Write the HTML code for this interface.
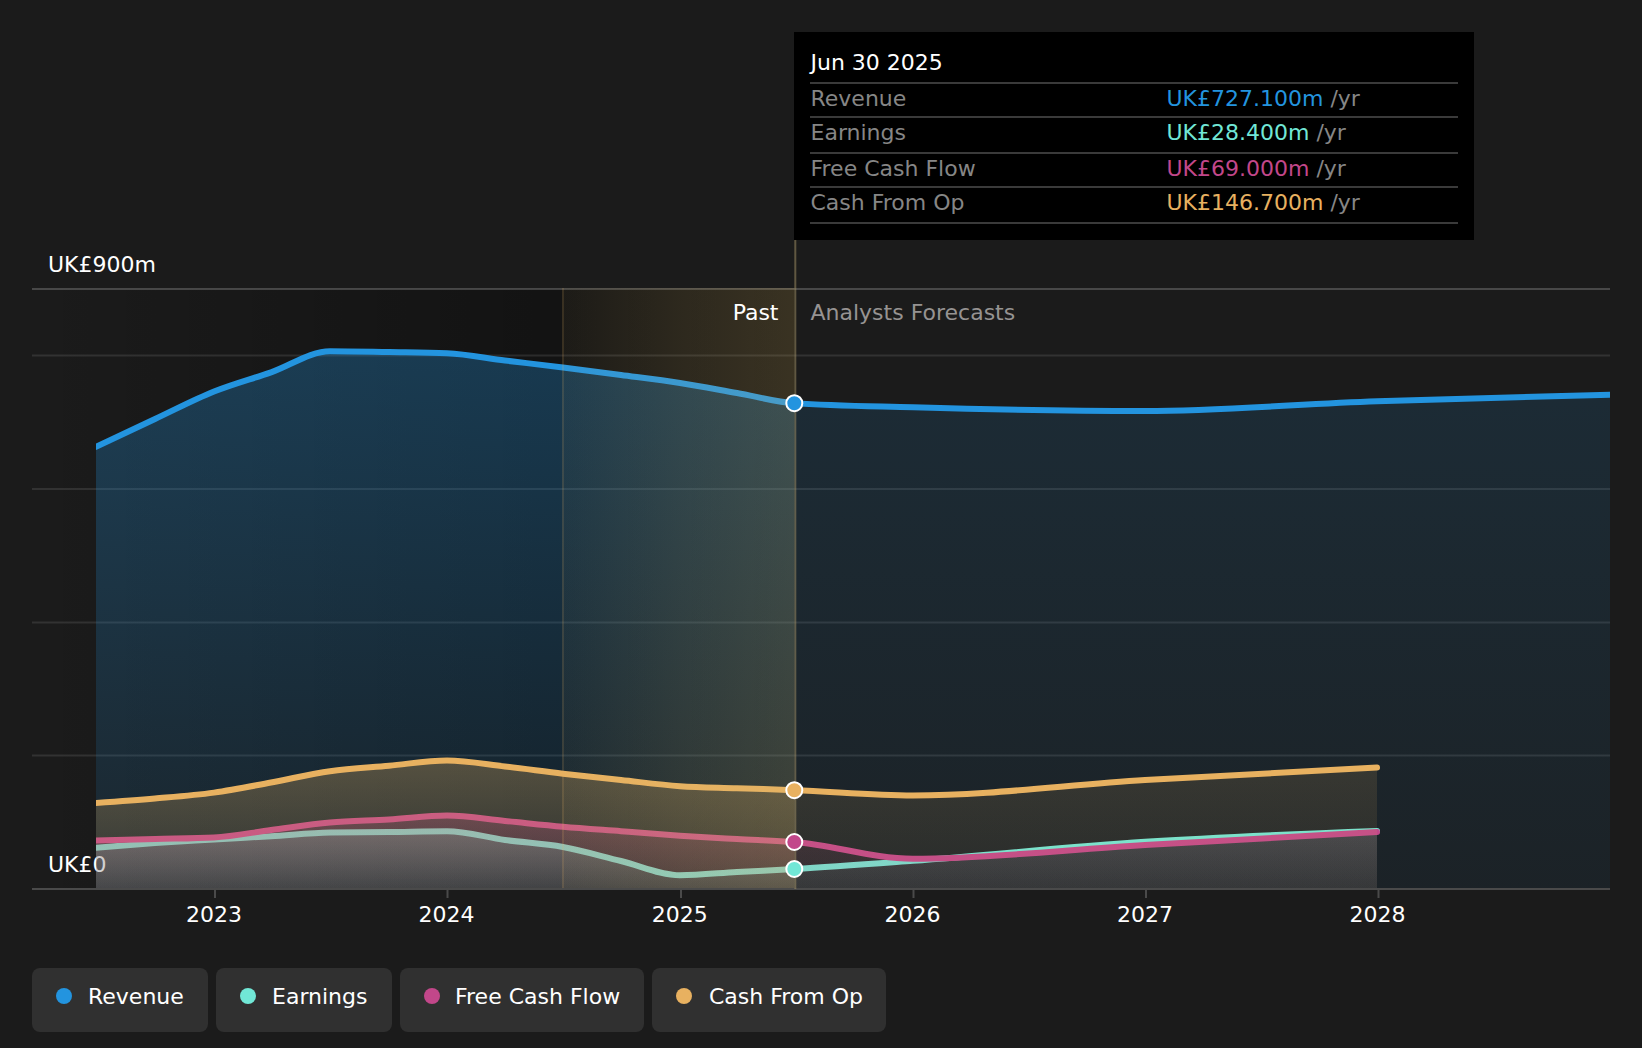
<!DOCTYPE html>
<html lang="en"><head><meta charset="utf-8"><title>Earnings and Revenue Growth</title>
<style>
html,body{margin:0;padding:0;background:#1b1b1b;}
body{width:1642px;height:1048px;overflow:hidden;position:relative;font-family:"DejaVu Sans", "Liberation Sans", sans-serif;}
svg{position:absolute;left:0;top:0;display:block}
text{font-family:"DejaVu Sans", "Liberation Sans", sans-serif;font-size:22px;}
</style></head><body>
<svg width="1642" height="1048" viewBox="0 0 1642 1048">
<defs>
<linearGradient id="gPast" x1="0" y1="0" x2="1" y2="0"><stop offset="0" stop-color="#000" stop-opacity="0"/><stop offset="1" stop-color="#000" stop-opacity="0.45"/></linearGradient>
<linearGradient id="gHi" x1="0" y1="0" x2="1" y2="0"><stop offset="0" stop-color="#d9b86b" stop-opacity="0.05"/><stop offset="0.5" stop-color="#d9b86b" stop-opacity="0.14"/><stop offset="1" stop-color="#d9b86b" stop-opacity="0.21"/></linearGradient>

<linearGradient id="gp_rev" gradientUnits="userSpaceOnUse" x1="0" y1="351.2" x2="0" y2="889"><stop offset="0" stop-color="#2394df" stop-opacity="0.3"/><stop offset="1" stop-color="#2394df" stop-opacity="0.1"/></linearGradient>
<linearGradient id="gf_rev" gradientUnits="userSpaceOnUse" x1="0" y1="351.2" x2="0" y2="889"><stop offset="0" stop-color="#2394df" stop-opacity="0.14"/><stop offset="1" stop-color="#2394df" stop-opacity="0.06"/></linearGradient>
<linearGradient id="gp_earn" gradientUnits="userSpaceOnUse" x1="0" y1="830.9" x2="0" y2="889"><stop offset="0" stop-color="#71e7d6" stop-opacity="0.3"/><stop offset="1" stop-color="#71e7d6" stop-opacity="0.1"/></linearGradient>
<linearGradient id="gf_earn" gradientUnits="userSpaceOnUse" x1="0" y1="830.9" x2="0" y2="889"><stop offset="0" stop-color="#71e7d6" stop-opacity="0.14"/><stop offset="1" stop-color="#71e7d6" stop-opacity="0.06"/></linearGradient>
<linearGradient id="gp_fcf" gradientUnits="userSpaceOnUse" x1="0" y1="815.5" x2="0" y2="889"><stop offset="0" stop-color="#c2478a" stop-opacity="0.3"/><stop offset="1" stop-color="#c2478a" stop-opacity="0.1"/></linearGradient>
<linearGradient id="gf_fcf" gradientUnits="userSpaceOnUse" x1="0" y1="815.5" x2="0" y2="889"><stop offset="0" stop-color="#c2478a" stop-opacity="0.14"/><stop offset="1" stop-color="#c2478a" stop-opacity="0.06"/></linearGradient>
<linearGradient id="gp_cfo" gradientUnits="userSpaceOnUse" x1="0" y1="760.5" x2="0" y2="889"><stop offset="0" stop-color="#e8b160" stop-opacity="0.3"/><stop offset="1" stop-color="#e8b160" stop-opacity="0.1"/></linearGradient>
<linearGradient id="gf_cfo" gradientUnits="userSpaceOnUse" x1="0" y1="760.5" x2="0" y2="889"><stop offset="0" stop-color="#e8b160" stop-opacity="0.14"/><stop offset="1" stop-color="#e8b160" stop-opacity="0.06"/></linearGradient>
</defs>
<rect x="0" y="0" width="1642" height="1048" fill="#1b1b1b"/>
<rect x="32" y="289" width="762.5" height="600" fill="url(#gPast)"/>
<rect x="32" y="354.5" width="1578" height="2" fill="#fff" fill-opacity="0.1"/>
<rect x="32" y="488.0" width="1578" height="2" fill="#fff" fill-opacity="0.1"/>
<rect x="32" y="621.5" width="1578" height="2" fill="#fff" fill-opacity="0.1"/>
<rect x="32" y="754.5" width="1578" height="2" fill="#fff" fill-opacity="0.1"/>
<rect x="32" y="288" width="1578" height="2" fill="#fff" fill-opacity="0.2"/>
<text x="48" y="872" fill="#fff">UK£0</text>
<clipPath id="cl"><rect x="96" y="0" width="1514" height="1048"/></clipPath><g clip-path="url(#cl)">
<path d="M96.00,446.80C115.67,437.51 135.33,428.22 155.00,419.00C174.67,409.78 194.33,399.37 214.00,391.50C233.00,383.89 252.00,378.89 271.00,372.30C290.67,365.47 310.33,351.20 330.00,351.20C349.67,351.20 369.33,351.75 389.00,352.10C408.33,352.45 427.67,352.50 447.00,353.30C466.33,354.10 485.67,358.13 505.00,360.50C524.33,362.87 543.67,365.08 563.00,367.50C582.33,369.92 601.67,372.44 621.00,375.00C640.67,377.60 660.33,379.93 680.00,383.00C699.00,385.96 718.00,389.65 737.00,393.00C756.17,396.38 775.33,401.87 794.50,403.20L794.5,889L96,889Z" fill="url(#gp_rev)"/>
<path d="M794.50,403.20C834.00,405.93 873.50,406.18 913.00,407.30C990.33,409.49 1067.67,411.00 1145.00,411.00C1222.33,411.00 1299.67,403.90 1377.00,401.20C1454.67,398.49 1532.33,396.65 1610.00,394.80L1610,889L794.5,889Z" fill="url(#gf_rev)"/>
<path d="M96.00,446.80C115.67,437.51 135.33,428.22 155.00,419.00C174.67,409.78 194.33,399.37 214.00,391.50C233.00,383.89 252.00,378.89 271.00,372.30C290.67,365.47 310.33,351.20 330.00,351.20C349.67,351.20 369.33,351.75 389.00,352.10C408.33,352.45 427.67,352.50 447.00,353.30C466.33,354.10 485.67,358.13 505.00,360.50C524.33,362.87 543.67,365.08 563.00,367.50C582.33,369.92 601.67,372.44 621.00,375.00C640.67,377.60 660.33,379.93 680.00,383.00C699.00,385.96 718.00,389.65 737.00,393.00C756.17,396.38 775.33,401.87 794.50,403.20" fill="none" stroke="#2394df" stroke-width="6" stroke-linejoin="round" stroke-linecap="square"/>
<path d="M794.50,403.20C834.00,405.93 873.50,406.18 913.00,407.30C990.33,409.49 1067.67,411.00 1145.00,411.00C1222.33,411.00 1299.67,403.90 1377.00,401.20C1454.67,398.49 1532.33,396.65 1610.00,394.80" fill="none" stroke="#2394df" stroke-width="6" stroke-linejoin="round" stroke-linecap="square"/>
<path d="M96.00,847.70C115.67,846.04 135.33,844.38 155.00,843.00C174.67,841.62 194.33,840.53 214.00,839.40C233.00,838.30 252.00,837.43 271.00,836.30C290.67,835.13 310.33,832.83 330.00,832.50C349.67,832.17 369.33,832.22 389.00,832.00C408.33,831.78 427.67,831.20 447.00,831.20C466.33,831.20 485.67,837.37 505.00,840.00C524.33,842.63 543.67,843.50 563.00,847.00C582.33,850.50 601.67,856.34 621.00,861.00C640.67,865.74 660.33,875.20 680.00,875.20C699.00,875.20 718.00,873.03 737.00,872.00C756.17,870.96 775.33,870.11 794.50,869.00L794.5,889L96,889Z" fill="url(#gp_earn)"/>
<path d="M794.50,869.00C834.00,866.72 873.50,863.70 913.00,860.80C990.33,855.12 1067.67,846.78 1145.00,841.80C1222.33,836.82 1299.67,833.86 1377.00,830.90L1377,889L794.5,889Z" fill="url(#gf_earn)"/>
<path d="M96.00,847.70C115.67,846.04 135.33,844.38 155.00,843.00C174.67,841.62 194.33,840.53 214.00,839.40C233.00,838.30 252.00,837.43 271.00,836.30C290.67,835.13 310.33,832.83 330.00,832.50C349.67,832.17 369.33,832.22 389.00,832.00C408.33,831.78 427.67,831.20 447.00,831.20C466.33,831.20 485.67,837.37 505.00,840.00C524.33,842.63 543.67,843.50 563.00,847.00C582.33,850.50 601.67,856.34 621.00,861.00C640.67,865.74 660.33,875.20 680.00,875.20C699.00,875.20 718.00,873.03 737.00,872.00C756.17,870.96 775.33,870.11 794.50,869.00" fill="none" stroke="#71e7d6" stroke-width="6" stroke-linejoin="round" stroke-linecap="square"/>
<path d="M794.50,869.00C834.00,866.72 873.50,863.70 913.00,860.80C990.33,855.12 1067.67,846.78 1145.00,841.80C1222.33,836.82 1299.67,833.86 1377.00,830.90" fill="none" stroke="#71e7d6" stroke-width="6" stroke-linejoin="round" stroke-linecap="round"/>
<path d="M96.00,840.50C115.67,840.00 135.33,839.50 155.00,839.00C174.67,838.50 194.33,838.50 214.00,837.50C233.00,836.53 252.00,832.46 271.00,830.00C290.67,827.46 310.33,824.25 330.00,822.50C349.67,820.75 369.33,820.68 389.00,819.50C408.33,818.34 427.67,815.50 447.00,815.50C466.33,815.50 485.67,819.13 505.00,821.00C524.33,822.87 543.67,825.00 563.00,826.70C582.33,828.40 601.67,829.71 621.00,831.20C640.67,832.71 660.33,834.38 680.00,835.70C699.00,836.97 718.00,837.95 737.00,839.00C756.17,840.06 775.33,840.44 794.50,842.00L794.5,889L96,889Z" fill="url(#gp_fcf)"/>
<path d="M794.50,842.00C834.00,845.21 873.50,858.70 913.00,858.70C990.33,858.70 1067.67,849.43 1145.00,845.00C1222.33,840.57 1299.67,836.33 1377.00,832.10L1377,889L794.5,889Z" fill="url(#gf_fcf)"/>
<path d="M96.00,840.50C115.67,840.00 135.33,839.50 155.00,839.00C174.67,838.50 194.33,838.50 214.00,837.50C233.00,836.53 252.00,832.46 271.00,830.00C290.67,827.46 310.33,824.25 330.00,822.50C349.67,820.75 369.33,820.68 389.00,819.50C408.33,818.34 427.67,815.50 447.00,815.50C466.33,815.50 485.67,819.13 505.00,821.00C524.33,822.87 543.67,825.00 563.00,826.70C582.33,828.40 601.67,829.71 621.00,831.20C640.67,832.71 660.33,834.38 680.00,835.70C699.00,836.97 718.00,837.95 737.00,839.00C756.17,840.06 775.33,840.44 794.50,842.00" fill="none" stroke="#c2478a" stroke-width="6" stroke-linejoin="round" stroke-linecap="square"/>
<path d="M794.50,842.00C834.00,845.21 873.50,858.70 913.00,858.70C990.33,858.70 1067.67,849.43 1145.00,845.00C1222.33,840.57 1299.67,836.33 1377.00,832.10" fill="none" stroke="#c2478a" stroke-width="6" stroke-linejoin="round" stroke-linecap="round"/>
<path d="M96.00,803.00C115.67,801.62 135.33,800.23 155.00,798.50C174.67,796.77 194.33,795.34 214.00,792.60C233.00,789.95 252.00,786.00 271.00,782.50C290.67,778.88 310.33,774.00 330.00,771.20C349.67,768.40 369.33,767.50 389.00,765.70C408.33,763.93 427.67,760.50 447.00,760.50C466.33,760.50 485.67,764.30 505.00,766.50C524.33,768.70 543.67,771.45 563.00,773.70C582.33,775.95 601.67,777.93 621.00,780.00C640.67,782.10 660.33,784.83 680.00,786.20C699.00,787.52 718.00,787.54 737.00,788.20C756.17,788.87 775.33,789.47 794.50,790.20L794.5,889L96,889Z" fill="url(#gp_cfo)"/>
<path d="M794.50,790.20C834.00,791.70 873.50,795.50 913.00,795.50C990.33,795.50 1067.67,784.65 1145.00,780.00C1222.33,775.35 1299.67,771.48 1377.00,767.60L1377,889L794.5,889Z" fill="url(#gf_cfo)"/>
<path d="M96.00,803.00C115.67,801.62 135.33,800.23 155.00,798.50C174.67,796.77 194.33,795.34 214.00,792.60C233.00,789.95 252.00,786.00 271.00,782.50C290.67,778.88 310.33,774.00 330.00,771.20C349.67,768.40 369.33,767.50 389.00,765.70C408.33,763.93 427.67,760.50 447.00,760.50C466.33,760.50 485.67,764.30 505.00,766.50C524.33,768.70 543.67,771.45 563.00,773.70C582.33,775.95 601.67,777.93 621.00,780.00C640.67,782.10 660.33,784.83 680.00,786.20C699.00,787.52 718.00,787.54 737.00,788.20C756.17,788.87 775.33,789.47 794.50,790.20" fill="none" stroke="#e8b160" stroke-width="6" stroke-linejoin="round" stroke-linecap="square"/>
<path d="M794.50,790.20C834.00,791.70 873.50,795.50 913.00,795.50C990.33,795.50 1067.67,784.65 1145.00,780.00C1222.33,775.35 1299.67,771.48 1377.00,767.60" fill="none" stroke="#e8b160" stroke-width="6" stroke-linejoin="round" stroke-linecap="round"/>
</g>
<rect x="562" y="288" width="232.29999999999995" height="601" fill="url(#gHi)"/>
<rect x="562" y="288" width="2" height="601" fill="#e8b160" fill-opacity="0.14"/>
<rect x="32" y="888" width="1578" height="2" fill="#4a4a4a"/>
<rect x="214" y="889" width="2" height="9" fill="#4a4a4a"/>
<rect x="446.5" y="889" width="2" height="9" fill="#4a4a4a"/>
<rect x="680" y="889" width="2" height="9" fill="#4a4a4a"/>
<rect x="912.5" y="889" width="2" height="9" fill="#4a4a4a"/>
<rect x="1145" y="889" width="2" height="9" fill="#4a4a4a"/>
<rect x="1377.5" y="889" width="2" height="9" fill="#4a4a4a"/>
<rect x="794.3" y="240" width="2" height="649" fill="#a59468" fill-opacity="0.5"/>
<text x="48" y="272" fill="#fff">UK£900m</text>
<text x="778.5" y="320" fill="#fff" text-anchor="end">Past</text>
<text x="810.5" y="320" fill="#969392">Analysts Forecasts</text>
<text x="214" y="921.7" fill="#fff" text-anchor="middle">2023</text>
<text x="446.4" y="921.7" fill="#fff" text-anchor="middle">2024</text>
<text x="679.8" y="921.7" fill="#fff" text-anchor="middle">2025</text>
<text x="912.4" y="921.7" fill="#fff" text-anchor="middle">2026</text>
<text x="1145" y="921.7" fill="#fff" text-anchor="middle">2027</text>
<text x="1377.5" y="921.7" fill="#fff" text-anchor="middle">2028</text>
<circle cx="794.3" cy="403.2" r="8" fill="#2394df" stroke="#fff" stroke-width="2"/>
<circle cx="794.3" cy="790.2" r="8" fill="#e8b160" stroke="#fff" stroke-width="2"/>
<circle cx="794.3" cy="842" r="8" fill="#c2478a" stroke="#fff" stroke-width="2"/>
<circle cx="794.3" cy="869" r="8" fill="#71e7d6" stroke="#fff" stroke-width="2"/>
<rect x="794" y="32" width="680" height="208" fill="#000"/>
<text x="810.5" y="70" fill="#fff">Jun 30 2025</text>
<rect x="810" y="82" width="648" height="2" fill="#3a3a3a"/>
<rect x="810" y="116" width="648" height="2" fill="#3a3a3a"/>
<rect x="810" y="152" width="648" height="2" fill="#3a3a3a"/>
<rect x="810" y="186" width="648" height="2" fill="#3a3a3a"/>
<rect x="810" y="222" width="648" height="2" fill="#3a3a3a"/>
<text x="810.5" y="106" fill="#868686">Revenue</text>
<text x="1166.5" y="106" fill="#2394df">UK£727.100m<tspan fill="#868686"> /yr</tspan></text>
<text x="810.5" y="140" fill="#868686">Earnings</text>
<text x="1166.5" y="140" fill="#71e7d6">UK£28.400m<tspan fill="#868686"> /yr</tspan></text>
<text x="810.5" y="176" fill="#868686">Free Cash Flow</text>
<text x="1166.5" y="176" fill="#c2478a">UK£69.000m<tspan fill="#868686"> /yr</tspan></text>
<text x="810.5" y="210" fill="#868686">Cash From Op</text>
<text x="1166.5" y="210" fill="#e8b160">UK£146.700m<tspan fill="#868686"> /yr</tspan></text>
<rect x="32" y="968" width="176" height="64" rx="8" fill="#303030"/>
<circle cx="64" cy="996" r="8" fill="#2394df"/>
<text x="88" y="1004" fill="#fff">Revenue</text>
<rect x="216" y="968" width="176" height="64" rx="8" fill="#303030"/>
<circle cx="248" cy="996" r="8" fill="#71e7d6"/>
<text x="272" y="1004" fill="#fff">Earnings</text>
<rect x="400" y="968" width="244" height="64" rx="8" fill="#303030"/>
<circle cx="432" cy="996" r="8" fill="#c2478a"/>
<text x="455" y="1004" fill="#fff">Free Cash Flow</text>
<rect x="652" y="968" width="234" height="64" rx="8" fill="#303030"/>
<circle cx="684" cy="996" r="8" fill="#e8b160"/>
<text x="709" y="1004" fill="#fff">Cash From Op</text>
</svg>
</body></html>
